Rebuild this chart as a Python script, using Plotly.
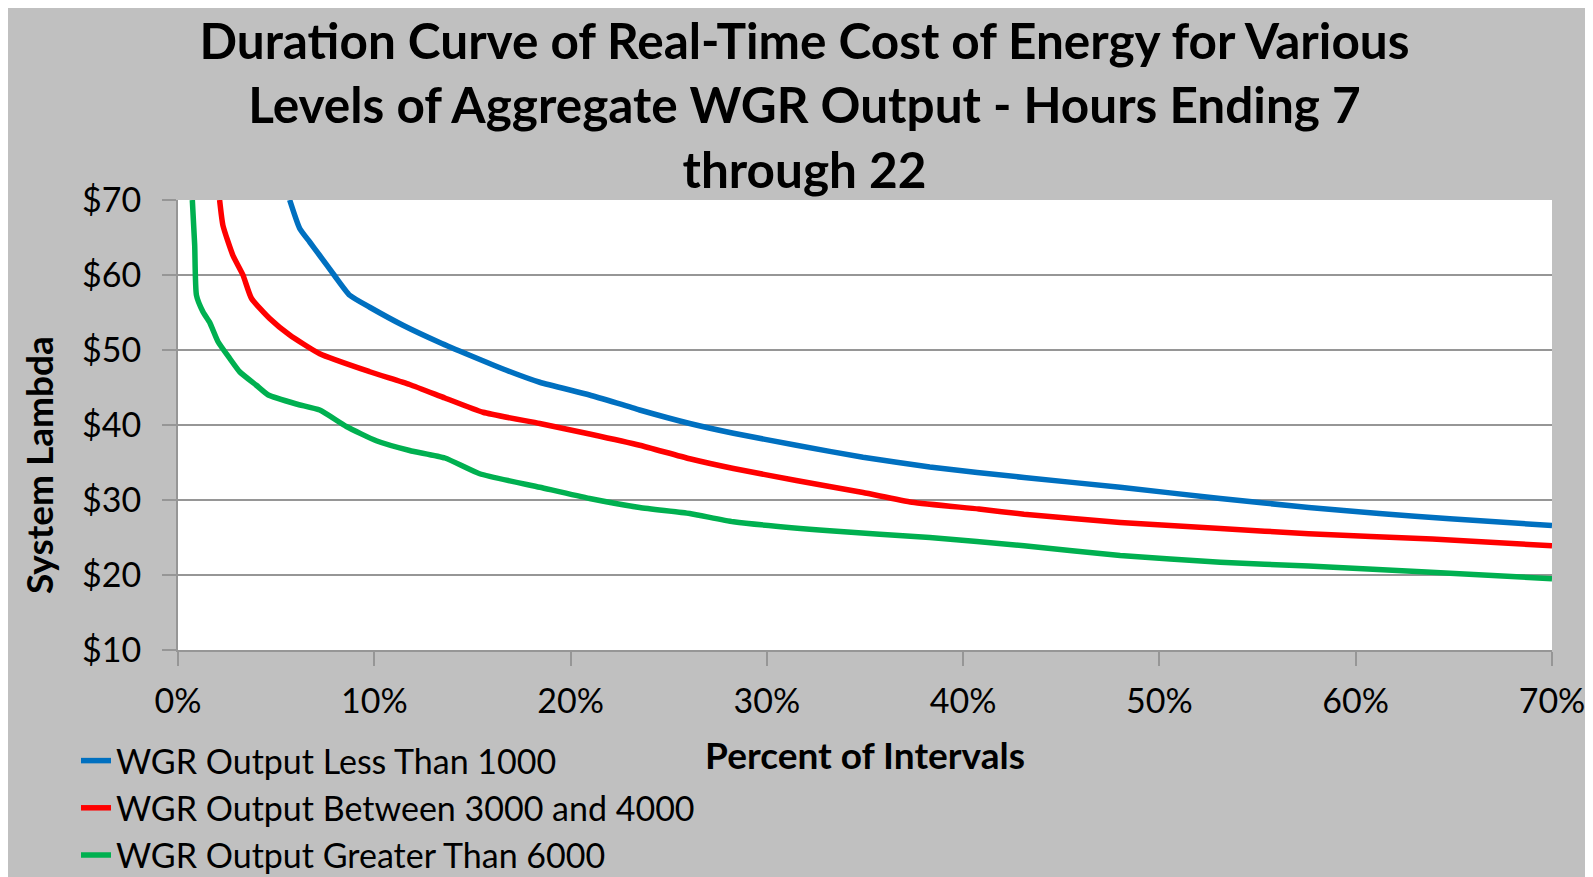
import plotly.graph_objects as go

# ---- data (percent of intervals, system lambda $) ----
x_less_1000 = [5.69, 6.2, 6.71, 7.22, 7.98, 8.75, 9.77, 11.46, 13.33, 14.86, 16.73, 18.43, 20.97, 23.52,
               26.07, 28.3, 31.5, 34.9, 38.3, 43.1, 48.0, 53.1, 57.6, 61.2, 64.8, 70.0]
y_less_1000 = [70, 66.2, 64.4, 62.6, 59.9, 57.3, 55.7, 53.3, 51.0, 49.3, 47.3, 45.7, 44.0, 42.0,
               40.2, 38.9, 37.3, 35.7, 34.4, 33.0, 31.7, 30.2, 29.0, 28.2, 27.5, 26.6]

x_3000_4000 = [2.12, 2.29, 2.8, 3.31, 3.74, 4.67, 5.69, 7.22, 9.77, 11.8, 13.6, 15.54, 18.43, 20.97,
               23.52, 26.07, 28.3, 31.5, 34.9, 37.4, 40.8, 43.1, 48.0, 53.1, 57.6, 63.9, 70.0]
y_3000_4000 = [70, 66.6, 62.6, 60.0, 56.9, 54.2, 52.0, 49.5, 47.1, 45.4, 43.6, 41.7, 40.2, 38.8,
               37.3, 35.5, 34.2, 32.6, 31.0, 29.7, 28.8, 28.1, 27.0, 26.2, 25.5, 24.8, 23.9]

x_greater_6000 = [0.73, 0.85, 0.94, 1.27, 1.61, 2.04, 2.63, 3.14, 3.99, 4.6, 6.03, 7.22, 8.58, 10.1,
                  11.8, 13.6, 15.37, 18.43, 20.97, 23.52, 26.07, 28.3, 33.2, 38.3, 43.1, 48.0, 53.1,
                  57.6, 63.6, 70.0]
y_greater_6000 = [70, 64.0, 57.3, 55.1, 53.7, 51.1, 48.9, 47.1, 45.3, 44.0, 42.8, 42.0, 39.8, 37.9,
                  36.6, 35.6, 33.5, 31.7, 30.2, 29.0, 28.2, 27.1, 25.9, 25.0, 23.9, 22.6, 21.7,
                  21.2, 20.4, 19.5]

series_names = ["WGR Output Less Than 1000", "WGR Output Between 3000 and 4000",
                "WGR Output Greater Than 6000"]
series_colors = ["#0070C0", "#FF0000", "#00B050"]

x_tick_vals = [0, 0.1, 0.2, 0.3, 0.4, 0.5, 0.6, 0.7]
x_tick_text = ["0%", "10%", "20%", "30%", "40%", "50%", "60%", "70%"]
y_tick_vals = [10, 20, 30, 40, 50, 60, 70]
y_tick_text = ["$10", "$20", "$30", "$40", "$50", "$60", "$70"]

FONT = "Lato"
W, H = 1593, 877
L, R, T, B = 170, 49, 192, 235

fig = go.Figure()
for xs, ys, name, col in zip([x_less_1000, x_3000_4000, x_greater_6000],
                             [y_less_1000, y_3000_4000, y_greater_6000],
                             series_names, series_colors):
    fig.add_trace(go.Scatter(x=[v / 100 for v in xs], y=ys, mode="lines", name=name,
                             line=dict(color=col, width=5.5, shape="spline", smoothing=0.5)))

pw = W - L - R
ph = H - T - B


def px_to_paper_x(p):
    return (p - L) / pw


def px_to_paper_y(p):
    return (H - B - p) / ph


fig.update_layout(
    width=W, height=H,
    margin=dict(l=L, r=R, t=T, b=B, pad=0, autoexpand=False),
    paper_bgcolor="#C0C0C0",
    plot_bgcolor="white",
    font=dict(family=FONT, color="black"),
    title=dict(
        text="<b>Duration Curve of Real-Time Cost of Energy for Various<br>"
             "Levels of Aggregate WGR Output - Hours Ending 7<br>through 22</b>",
        font=dict(family=FONT, size=49.5, color="black"),
        x=0.5, xanchor="center", xref="container",
        y=1 - 51 / H, yanchor="middle", yref="container",
    ),
    xaxis=dict(
        range=[0, 0.7], tickvals=x_tick_vals, ticktext=x_tick_text,
        showgrid=False, zeroline=False,
        showline=True, linecolor="#969696", linewidth=2,
        ticks="outside", ticklen=14, tickwidth=1.5, tickcolor="#969696",
        tickfont=dict(family=FONT, size=34, color="black"),
        ticklabelstandoff=6,
        title=dict(text="<b>Percent of Intervals</b>", font=dict(family=FONT, size=37, color="black"),
                   standoff=24),
    ),
    yaxis=dict(
        range=[10, 70], tickvals=y_tick_vals, ticktext=y_tick_text,
        showgrid=True, gridcolor="#969696", gridwidth=1.5, zeroline=False,
        showline=True, linecolor="#969696", linewidth=2,
        ticks="outside", ticklen=14, tickwidth=1.5, tickcolor="#969696",
        tickfont=dict(family=FONT, size=34, color="black"),
        ticklabelstandoff=14,
    ),
    legend=dict(
        x=px_to_paper_x(68), y=px_to_paper_y(724), xanchor="left", yanchor="top",
        bgcolor="rgba(0,0,0,0)", font=dict(family=FONT, size=34, color="black"),
        tracegroupgap=0, itemwidth=30,
    ),
    showlegend=True,
    annotations=[
        dict(text="<b>System Lambda</b>", xref="paper", yref="paper",
             x=px_to_paper_x(30), y=px_to_paper_y(457), xanchor="center", yanchor="middle",
             textangle=-90, showarrow=False, font=dict(family=FONT, size=37, color="black")),
    ],
)

fig.write_html("out.html")
